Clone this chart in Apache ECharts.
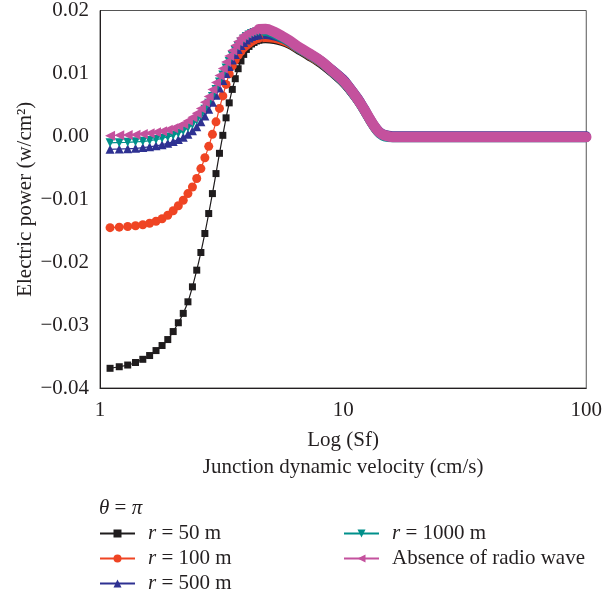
<!DOCTYPE html>
<html>
<head>
<meta charset="utf-8">
<script src="https://cdn.jsdelivr.net/npm/echarts@6/dist/echarts.min.js"></script>
<style>
html,body{margin:0;padding:0;background:#fff;}
#chart{width:605px;height:600px;}
</style>
</head>
<body>
<div id="chart"></div>
<script>
// Junction dynamic velocity Sf (cm/s) where markers are drawn
const sfMarkers = [1.1,1.2,1.3,1.4,1.5,1.6,1.7,1.8,1.9,2.0,2.1,2.2,2.3,2.4,2.5,2.6,2.7,2.8,2.9,3.0,3.1,3.2,3.3,3.4,3.5,3.6,3.7,3.8,3.9,4.0,4.1,4.2,4.3,4.4,4.5];
// Electric power (w/cm^2)
const r50Markers = [-0.03687,-0.03662,-0.03635,-0.03595,-0.03544,-0.03484,-0.03405,-0.03325,-0.0323,-0.03103,-0.02963,-0.02814,-0.0263,-0.02392,-0.02127,-0.01846,-0.01544,-0.01227,-0.0091,-0.00592,-0.0027,0.00016,0.00294,0.00532,0.00746,0.00916,0.01075,0.01198,0.01302,0.01381,0.01429,0.01468,0.01492,0.01516,0.01529];
const r100Markers = [-0.01452,-0.01444,-0.01433,-0.01421,-0.01405,-0.01381,-0.01349,-0.0131,-0.01254,-0.01183,-0.01103,-0.01016,-0.0091,-0.00805,-0.00671,-0.00513,-0.00341,-0.00159,0.00032,0.0023,0.00444,0.00643,0.00825,0.00992,0.01119,0.01214,0.01286,0.01349,0.01405,0.01444,0.01476,0.01508,0.01532,0.01548,0.01556];
const r500Markers = [-0.00206,-0.00203,-0.00198,-0.0019,-0.00179,-0.00167,-0.00151,-0.00132,-0.00111,-0.00084,-0.00052,-0.00016,0.00032,0.00087,0.00151,0.0023,0.00325,0.00429,0.0054,0.00651,0.0077,0.00889,0.01,0.01111,0.01214,0.01302,0.01381,0.01444,0.01492,0.01532,0.01563,0.01587,0.01603,0.01611,0.01614];
const r1000Markers = [-0.00103,-0.001,-0.00095,-0.00087,-0.00079,-0.00067,-0.00051,-0.00032,-0.00011,0.00016,0.00048,0.00087,0.00135,0.0019,0.00254,0.00333,0.00429,0.00524,0.00635,0.00746,0.00865,0.00976,0.01087,0.0119,0.01286,0.01365,0.01437,0.015,0.01548,0.01587,0.01611,0.01635,0.01651,0.01659,0.01663];
const absentMarkers = [0.0001,0.00016,0.00021,0.00027,0.00037,0.00048,0.00063,0.00079,0.00103,0.00127,0.00159,0.00198,0.00246,0.00302,0.00365,0.00444,0.0054,0.00635,0.00746,0.00857,0.00968,0.01079,0.01183,0.01278,0.01365,0.01444,0.01508,0.01563,0.01603,0.01635,0.01659,0.01675,0.0169,0.01698,0.01702];

// Dense region (markers overlap into a band)
const sfBand = [4.5,4.8,5.2,5.6,6.0,6.5,7.2,8.1,8.9,10,10.5,11.5,12.2,12.9,13.5,14.1,14.8,16,20,30,50,100];
const r50Band = [0.01529,0.01537,0.01524,0.01492,0.01444,0.01365,0.01262,0.01135,0.01008,0.00833,0.00738,0.0054,0.00381,0.00222,0.00111,0.00032,-0.00005,-0.00016,-0.00016,-0.00016,-0.00016,-0.00016];
const r100Band = [0.01556,0.01563,0.01548,0.01516,0.01468,0.0139,0.01286,0.0116,0.01032,0.00857,0.00762,0.00556,0.00397,0.00238,0.00119,0.0004,0,-0.00013,-0.00013,-0.00013,-0.00013,-0.00013];
const r500Band = [0.01614,0.01619,0.01595,0.01556,0.015,0.01421,0.01325,0.01206,0.01079,0.00913,0.00817,0.00611,0.00452,0.00286,0.00167,0.00079,0.00032,0.00011,0.00011,0.00011,0.00011,0.00011];
const r1000Band = [0.01663,0.01667,0.01627,0.01563,0.015,0.01405,0.01302,0.01175,0.0104,0.00865,0.0077,0.00563,0.00405,0.00246,0.00127,0.0004,-0.00008,-0.00021,-0.00021,-0.00021,-0.00021,-0.00021];
const absentBand = [0.01702,0.01705,0.01659,0.01595,0.01524,0.01429,0.01325,0.01198,0.01063,0.00889,0.00794,0.00587,0.00429,0.0027,0.00151,0.00063,0.00016,-0.0001,-0.0001,-0.0001,-0.0001,-0.0001];

const seriesNames = ['r = 50 m','r = 100 m','r = 500 m','r = 1000 m','Absence of radio wave'];
const xTicks = [1, 10, 100];
const yTicks = [-0.04, -0.03, -0.02, -0.01, 0.00, 0.01, 0.02];

const FONT = 'Liberation Serif';
const colors = ['#1f1c1d','#ef4423','#2e3192','#00908b','#c4519d'];
const symbols = ['rect','circle','triangle','path://M0,0 L10,0 L5,10 Z','path://M10,0 L10,10 L0,5 Z'];
const symSizes = [7,9,9,9,10];
const bandWidths = [7,8,9,9,10.5];
const markerData = [r50Markers, r100Markers, r500Markers, r1000Markers, absentMarkers];
const bandData = [r50Band, r100Band, r500Band, r1000Band, absentBand];

const series = [];
seriesNames.forEach((name, k) => {
  series.push({
    name: name,
    type: 'line',
    data: sfMarkers.map((x, i) => [x, markerData[k][i]]),
    symbol: symbols[k],
    symbolSize: symSizes[k],
    showSymbol: true,
    smooth: 0.2,
    lineStyle: {color: colors[k], width: 1.2},
    itemStyle: {color: colors[k]},
    animation: false,
    z: 2
  });
  series.push({
    name: name,
    type: 'line',
    data: sfBand.map((x, i) => [x, bandData[k][i]]),
    showSymbol: false,
    symbol: 'none',
    smooth: 0.35,
    lineStyle: {color: colors[k], width: bandWidths[k], cap: 'round', join: 'round'},
    itemStyle: {color: colors[k]},
    animation: false,
    z: 2
  });
});

function legendFmt(name) {
  if (name.indexOf('r = ') === 0) return '{i|r}' + name.slice(1);
  return name;
}
const legendBase = {
  orient: 'vertical',
  padding: 0,
  height: 90,
  itemWidth: 35,
  itemHeight: 10,
  itemGap: 4,
  formatter: legendFmt,
  selectedMode: false,
  textStyle: {
    fontFamily: FONT, fontSize: 21, color: '#231f20', lineHeight: 21,
    padding: [0, 0, 0, 8],
    rich: {i: {fontFamily: FONT, fontSize: 21, fontStyle: 'italic', color: '#231f20'}}
  }
};

const option = {
  backgroundColor: '#ffffff',
  animation: false,
  textStyle: {fontFamily: FONT},
  title: {
    text: '{i|θ} = {i|π}',
    left: 99,
    top: 498,
    padding: 0,
    textStyle: {
      fontFamily: FONT, fontSize: 21, fontWeight: 'normal', color: '#231f20',
      rich: {i: {fontFamily: FONT, fontSize: 21, fontStyle: 'italic', color: '#231f20'}}
    }
  },
  legend: [
    Object.assign({}, legendBase, {left: 99, top: 523, data: seriesNames.slice(0, 3)}),
    Object.assign({}, legendBase, {left: 343, top: 523, data: seriesNames.slice(3)})
  ],
  grid: {left: 100, right: 14, top: 10, bottom: 212, show: true, borderColor: '#555', borderWidth: 1, containLabel: false},
  xAxis: {
    type: 'log',
    logBase: 10,
    min: xTicks[0],
    max: xTicks[xTicks.length - 1],
    name: 'Log (Sf)\nJunction dynamic velocity (cm/s)',
    nameLocation: 'middle',
    nameGap: 39,
    nameTextStyle: {fontFamily: FONT, fontSize: 21, color: '#231f20', lineHeight: 27},
    axisLine: {onZero: false, lineStyle: {color: '#231f20', width: 1}},
    axisTick: {show: false},
    minorTick: {show: false},
    splitLine: {show: false},
    axisLabel: {fontFamily: FONT, fontSize: 21, color: '#231f20', margin: 12}
  },
  yAxis: {
    type: 'value',
    min: yTicks[0],
    max: yTicks[yTicks.length - 1],
    interval: 0.01,
    name: 'Electric power (w/cm²)',
    nameLocation: 'middle',
    nameGap: 64,
    nameMoveOverlap: false,
    nameTextStyle: {fontFamily: FONT, fontSize: 21, color: '#231f20'},
    axisLine: {show: true, onZero: false, lineStyle: {color: '#231f20', width: 1}},
    axisTick: {show: false},
    splitLine: {show: false},
    axisLabel: {
      fontFamily: FONT, fontSize: 21, color: '#231f20', margin: 11,
      formatter: v => (v < -1e-9 ? '−' : '') + Math.abs(v).toFixed(2)
    }
  },
  series: series
};

const chart = echarts.init(document.getElementById('chart'), null, {renderer: 'canvas'});
chart.setOption(option);
</script>
</body>
</html>
